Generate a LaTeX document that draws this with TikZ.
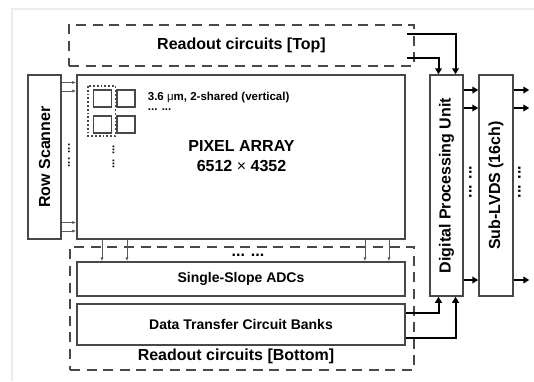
\documentclass[tikz,border=0pt]{standalone}
\usepackage{fontspec}
\setmainfont{Liberation Sans}
\usepackage{tikz}
\usetikzlibrary{arrows.meta}
\definecolor{ssedge}{RGB}{72,72,72}
\definecolor{ssthin}{RGB}{90,90,90}
\definecolor{ssframe}{RGB}{236,236,236}
\tikzset{
  blk/.style={
    draw=ssedge, line width=0.75pt, inner sep=0pt, align=center,
    font=\bfseries\fontsize{8}{10}\selectfont
  },
  dblk/.style={blk, dash pattern=on 5pt off 3.3pt},
  adcblk/.style={blk, font=\bfseries\fontsize{7}{8.4}\selectfont},
  title/.style={font=\bfseries\fontsize{8}{10}\selectfont, align=center, inner sep=0pt},
  note/.style={font=\bfseries\fontsize{5.75}{7}\selectfont, inner sep=0pt},
  cell/.style={draw=ssedge, line width=0.75pt},
  pair/.style={draw=ssedge, line width=0.9pt, densely dotted},
  tarr/.style={-{Triangle[length=3pt,width=3.4pt]}, draw=black, line width=1pt},
  larr/.style={-{Latex[length=2pt,width=1.6pt]}, draw=ssthin, line width=0.4pt},
  every picture/.append style={line join=miter}
}
\begin{document}
\begin{tikzpicture}[x=0.5pt,y=-0.5pt]
  \useasboundingbox (0,0) rectangle (534,381);
  \draw[ssframe, line width=0.6pt] (12,381) -- (12,9) -- (534,9);
  % blocks
  \node[dblk, minimum width=172.5pt, minimum height=20.5pt] (rtop) at (241.5,45.5) {Readout circuits [Top]};
  \node[blk, minimum width=164pt, minimum height=82pt] (pix) at (241,157) {};
  \node[blk, rotate=90, minimum width=82pt, minimum height=16.5pt] (rows) at (44.5,157) {Row Scanner};
  \node[dblk, minimum width=172pt, minimum height=61.5pt] (rbot) at (242,308.5) {};
  \node[adcblk, minimum width=164pt, minimum height=17pt] (adc) at (241,279) {Single-Slope ADCs};
  \node[adcblk, minimum width=164pt, minimum height=20.5pt] (dtc) at (241,324.5) {Data Transfer Circuit Banks};
  \node[blk, rotate=90, minimum width=110.5pt, minimum height=16.5pt] (dpu) at (446.5,185.5) {Digital Processing Unit};
  \node[blk, rotate=90, minimum width=110.5pt, minimum height=17pt] (lvds) at (496,185.5) {Sub-LVDS (16ch)};
  \node[title] (rbotname) at (236,356) {Readout circuits [Bottom]};
  \node[title] (pixname) at (241.5,156) {PIXEL ARRAY\\6512 {\mdseries ×} 4352};
  % pixel detail
  \foreach \cx in {93.5,117} {
    \foreach \cy in {90,116} {
      \draw[cell] (\cx,\cy) rectangle ++(18,17);
    }
  }
  \draw[pair] (88,86) rectangle (115.5,136);
  \node[note, anchor=west] (pitch) at (147.5,98) {3.6 {\mdseries μ}m, 2-shared (vertical)};
  \node[note, anchor=west] (pdots) at (147.5,110) {... ...};
  \node[note, rotate=90] (pvdots) at (113.5,157) {... ...};
  \node[note, rotate=90] (rvdots) at (69,155.5) {... ...};
  \node[title] (hdots) at (248,255) {... ...};
  \node[title, rotate=90] (dvdots) at (470.5,182) {... ...};
  \node[title, rotate=90] (lvdots) at (519.5,182) {... ...};
  % thin connectors
  \foreach \yy in {82.5,91,222.5,231}
    \draw[larr] (rows.south |- 0,\yy) -- (pix.west |- 0,\yy);
  \foreach \xx in {102,127,365,389}
    \draw[larr] (pix.south -| \xx,0) -- (adc.north -| \xx,0);
  % data path
  \draw[tarr] ([xshift=-4pt,yshift=5.75pt]rtop.east) -| ([xshift=4.5pt]dpu.east);
  \draw[tarr] ([xshift=-4pt,yshift=-6.25pt]rtop.east) -| ([xshift=-4pt]dpu.east);
  \draw[tarr] ([yshift=5.75pt]dtc.east) -| ([xshift=-4pt]dpu.west);
  \draw[tarr] ([yshift=-6.5pt]dtc.east) -| ([xshift=4.5pt]dpu.west);
  \foreach \yy in {90,108,280} {
    \draw[tarr] (dpu.south |- 0,\yy) -- (lvds.north |- 0,\yy);
    \draw[tarr] (lvds.south |- 0,\yy) -- ++(15.5,0);
  }
\end{tikzpicture}
\end{document}
